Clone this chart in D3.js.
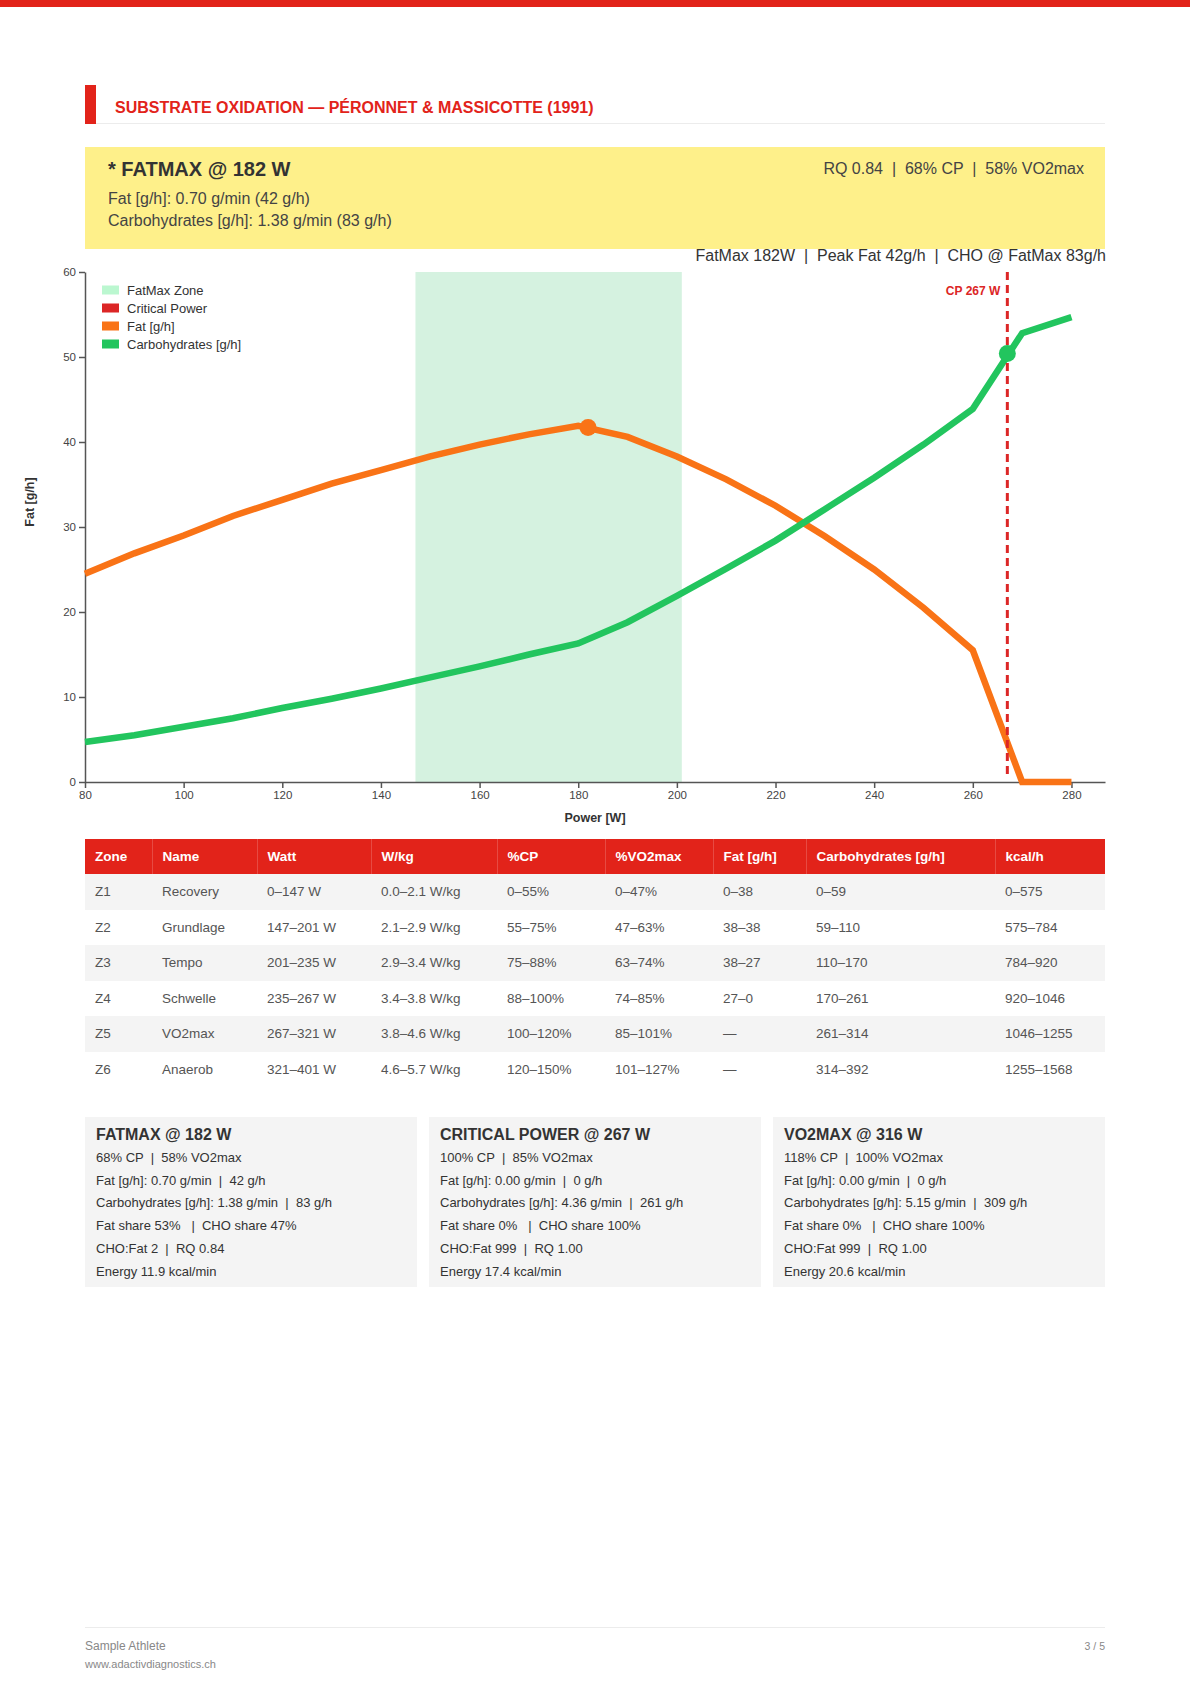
<!DOCTYPE html>
<html>
<head>
<meta charset="utf-8">
<script src="https://cdn.jsdelivr.net/npm/d3@7"></script>
<style>
  html, body { margin: 0; padding: 0; background: #fff; }
  body { width: 1190px; height: 1683px; position: relative; overflow: hidden;
         font-family: "Liberation Sans", Arial, Helvetica, sans-serif; color: #333; }
  .abs { position: absolute; }
  .topbar { left: 0; top: 0; width: 1190px; height: 7px; background: #e2231a; }
  .secbar { left: 85px; top: 85px; width: 11px; height: 39px; background: #e2231a; }
  .secline { left: 96px; top: 123px; width: 1009px; height: 1px; background: #ececec; }
  .sectitle { left: 115px; top: 98px; font-size: 16px; font-weight: bold; color: #e2231a; line-height: 20px; white-space: nowrap; }
  .hl { left: 85px; top: 147px; width: 1020px; height: 102px; background: #fef08a; }
  .hl .t { position: absolute; left: 23px; top: 9.5px; font-size: 20px; font-weight: bold; color: #333; line-height: 24px; white-space: nowrap; }
  .hl .r { position: absolute; right: 21px; top: 11px; font-size: 16px; color: #444; line-height: 22px; white-space: pre; }
  .hl .l { position: absolute; left: 23px; font-size: 16px; color: #444; line-height: 20px; white-space: nowrap; }
  svg.chart { position: absolute; left: 0; top: 0; }
  table.zones { position: absolute; left: 85px; top: 839px; width: 1020px; border-collapse: collapse; table-layout: fixed; }
  table.zones th { background: #e2231a; color: #fff; font-size: 13.5px; font-weight: bold; text-align: left;
                   height: 35px; padding: 0 0 0 10px; box-sizing: border-box; border-right: 1px solid rgba(255,255,255,0.18); white-space: nowrap; }
  table.zones th:last-child { border-right: none; }
  table.zones td { font-size: 13.5px; color: #555; height: 35.5px; padding: 0 0 0 10px; box-sizing: border-box; white-space: nowrap; }
  table.zones tbody tr:nth-child(odd) td { background: #f4f4f4; }
  .card { position: absolute; top: 1117px; width: 332px; height: 170px; background: #f4f4f4; }
  .card .ct { position: absolute; left: 11px; top: 8px; font-size: 16px; font-weight: bold; color: #333; line-height: 20px; white-space: nowrap; }
  .card .cl { position: absolute; left: 11px; font-size: 13px; color: #333; line-height: 16px; white-space: pre; }
  .footline { left: 85px; top: 1627px; width: 1020px; height: 1px; background: #ececec; }
  .f1 { left: 85px; top: 1639px; font-size: 12px; color: #888; line-height: 14px; }
  .f2 { left: 85px; top: 1658px; font-size: 11px; color: #888; line-height: 12px; }
  .f3 { right: 85px; top: 1639px; font-size: 10.5px; color: #888; line-height: 14px; }
</style>
</head>
<body>
<script>
// ---------------- DATA ----------------
const sectionTitle = "SUBSTRATE OXIDATION — PÉRONNET & MASSICOTTE (1991)";
const highlightTitle = "* FATMAX @ 182 W";
const highlightRight = "RQ 0.84  |  68% CP  |  58% VO2max";
const highlightLines = ["Fat [g/h]: 0.70 g/min (42 g/h)", "Carbohydrates [g/h]: 1.38 g/min (83 g/h)"];
const chartTitle = "FatMax 182W  |  Peak Fat 42g/h  |  CHO @ FatMax 83g/h";

const powerW = [80, 90, 100, 110, 120, 130, 140, 150, 160, 170, 180, 190, 200, 210, 220, 230, 240, 250, 260, 270, 280];
const fatGh  = [24.5, 26.9, 29.0, 31.3, 33.2, 35.1, 36.7, 38.3, 39.7, 40.9, 41.9, 40.6, 38.3, 35.6, 32.5, 28.9, 25.0, 20.5, 15.5, 0, 0];
const choGh  = [4.7, 5.5, 6.5, 7.5, 8.7, 9.8, 11.0, 12.3, 13.6, 15.0, 16.3, 18.8, 21.9, 25.1, 28.4, 32.1, 35.8, 39.7, 43.9, 52.8, 54.7];

const fatmaxZone = [147, 201];
const fatmaxPoint = [182, 41.7];
const cpW = 267;
const cpChoPoint = [267, 50.4];
const cpLabel = "CP 267 W";

const xTicks = [80, 100, 120, 140, 160, 180, 200, 220, 240, 260, 280];
const yTicks = [0, 10, 20, 30, 40, 50, 60];
const xDomain = [80, 286.8];
const yDomain = [0, 60];
const xLabel = "Power [W]";
const yLabel = "Fat [g/h]";

const legendLabels = ["FatMax Zone", "Critical Power", "Fat [g/h]", "Carbohydrates [g/h]"];
const legendColors = ["#bbf7d0", "#dc2626", "#f97316", "#22c55e"];

const tableHeaders = ["Zone", "Name", "Watt", "W/kg", "%CP", "%VO2max", "Fat [g/h]", "Carbohydrates [g/h]", "kcal/h"];
const zoneIds   = ["Z1", "Z2", "Z3", "Z4", "Z5", "Z6"];
const zoneNames = ["Recovery", "Grundlage", "Tempo", "Schwelle", "VO2max", "Anaerob"];
const zoneWatt  = ["0–147 W", "147–201 W", "201–235 W", "235–267 W", "267–321 W", "321–401 W"];
const zoneWkg   = ["0.0–2.1 W/kg", "2.1–2.9 W/kg", "2.9–3.4 W/kg", "3.4–3.8 W/kg", "3.8–4.6 W/kg", "4.6–5.7 W/kg"];
const zoneCP    = ["0–55%", "55–75%", "75–88%", "88–100%", "100–120%", "120–150%"];
const zoneVO2   = ["0–47%", "47–63%", "63–74%", "74–85%", "85–101%", "101–127%"];
const zoneFat   = ["0–38", "38–38", "38–27", "27–0", "—", "—"];
const zoneCHO   = ["0–59", "59–110", "110–170", "170–261", "261–314", "314–392"];
const zoneKcal  = ["0–575", "575–784", "784–920", "920–1046", "1046–1255", "1255–1568"];
const colWidths = [67, 105, 114, 126, 108, 108, 93, 189, 110];

const cardTitles = ["FATMAX @ 182 W", "CRITICAL POWER @ 267 W", "VO2MAX @ 316 W"];
const cardLines = [
  ["68% CP  |  58% VO2max", "Fat [g/h]: 0.70 g/min  |  42 g/h", "Carbohydrates [g/h]: 1.38 g/min  |  83 g/h", "Fat share 53%   |  CHO share 47%", "CHO:Fat 2  |  RQ 0.84", "Energy 11.9 kcal/min"],
  ["100% CP  |  85% VO2max", "Fat [g/h]: 0.00 g/min  |  0 g/h", "Carbohydrates [g/h]: 4.36 g/min  |  261 g/h", "Fat share 0%   |  CHO share 100%", "CHO:Fat 999  |  RQ 1.00", "Energy 17.4 kcal/min"],
  ["118% CP  |  100% VO2max", "Fat [g/h]: 0.00 g/min  |  0 g/h", "Carbohydrates [g/h]: 5.15 g/min  |  309 g/h", "Fat share 0%   |  CHO share 100%", "CHO:Fat 999  |  RQ 1.00", "Energy 20.6 kcal/min"]
];
const footerName = "Sample Athlete";
const footerUrl = "www.adactivdiagnostics.ch";
const footerPage = "3 / 5";

// ---------------- PAGE ----------------
const body = d3.select("body");
body.append("div").attr("class", "abs topbar");
body.append("div").attr("class", "abs secbar");
body.append("div").attr("class", "abs secline");
body.append("div").attr("class", "abs sectitle").text(sectionTitle);

const hl = body.append("div").attr("class", "abs hl");
hl.append("div").attr("class", "t").text(highlightTitle);
hl.append("div").attr("class", "r").text(highlightRight);
hl.selectAll("div.l").data(highlightLines).enter().append("div")
  .attr("class", "l").style("top", (d, i) => (41.5 + i * 22) + "px").text(d => d);

// ---------------- CHART ----------------
const FONT = "'Liberation Sans', Arial, Helvetica, sans-serif";
const svg = body.append("svg").attr("class", "chart").attr("width", 1190).attr("height", 835);

const x = d3.scaleLinear().domain(xDomain).range([85, 1105]);
const y = d3.scaleLinear().domain(yDomain).range([782, 272]);

// chart title
svg.append("text").attr("x", 1106).attr("y", 261).attr("text-anchor", "end")
  .attr("font-family", FONT).attr("font-size", 16).attr("fill", "#333")
  .style("white-space", "pre").attr("xml:space", "preserve").text(chartTitle);

// fatmax zone
svg.append("rect")
  .attr("x", x(fatmaxZone[0])).attr("width", x(fatmaxZone[1]) - x(fatmaxZone[0]))
  .attr("y", y(yDomain[1])).attr("height", y(yDomain[0]) - y(yDomain[1]))
  .attr("fill", "#d5f2e0");

// axes
const xAxis = d3.axisBottom(x).tickValues(xTicks).tickSizeOuter(0).tickFormat(d3.format("d"));
const yAxis = d3.axisLeft(y).tickValues(yTicks).tickSizeOuter(0).tickFormat(d3.format("d"));
const gx = svg.append("g").attr("transform", `translate(0,${y(0)})`).call(xAxis);
const gy = svg.append("g").attr("transform", `translate(${x(80)},0)`).call(yAxis);
[gx, gy].forEach(g => {
  g.select(".domain").attr("stroke", "#555").attr("stroke-width", 1.5);
  g.selectAll(".tick line").attr("stroke", "#555").attr("stroke-width", 1.5);
  g.selectAll(".tick text").attr("fill", "#444").attr("font-size", 11.5).attr("font-family", FONT);
});

svg.append("text").attr("x", x(80) + (1105 - x(80)) / 2).attr("y", 822).attr("text-anchor", "middle")
  .attr("font-family", FONT).attr("font-size", 12.5).attr("font-weight", "bold").attr("fill", "#333").text(xLabel);
svg.append("text").attr("transform", `translate(34,${(y(0) + y(60)) / 2 - 25}) rotate(-90)`).attr("text-anchor", "middle")
  .attr("font-family", FONT).attr("font-size", 12.5).attr("font-weight", "bold").attr("fill", "#333").text(yLabel);

// lines
const line = (vals) => d3.line().x((d, i) => x(powerW[i])).y(d => y(d))(vals);
svg.append("path").attr("d", line(fatGh)).attr("fill", "none").attr("stroke", "#f97316").attr("stroke-width", 6.5);
svg.append("path").attr("d", line(choGh)).attr("fill", "none").attr("stroke", "#22c55e").attr("stroke-width", 6.5);

// critical power line
svg.append("line").attr("x1", x(cpW)).attr("x2", x(cpW)).attr("y1", y(60)).attr("y2", y(0) - 6)
  .attr("stroke", "#dc2626").attr("stroke-width", 3).attr("stroke-dasharray", "8,5");
svg.append("text").attr("x", x(cpW) - 7).attr("y", 295).attr("text-anchor", "end")
  .attr("font-family", FONT).attr("font-size", 12).attr("font-weight", "bold").attr("fill", "#dc2626").text(cpLabel);

// markers
svg.append("circle").attr("cx", x(fatmaxPoint[0])).attr("cy", y(fatmaxPoint[1])).attr("r", 8.5).attr("fill", "#f97316");
svg.append("circle").attr("cx", x(cpChoPoint[0])).attr("cy", y(cpChoPoint[1])).attr("r", 8.5).attr("fill", "#22c55e");

// legend
const lg = svg.append("g");
legendLabels.forEach((lab, i) => {
  const cy = 290 + i * 18;
  lg.append("rect").attr("x", 102).attr("y", cy - 4.5).attr("width", 17).attr("height", 9).attr("fill", legendColors[i]);
  lg.append("text").attr("x", 127).attr("y", cy + 4.5).attr("font-family", FONT).attr("font-size", 13).attr("fill", "#333").text(lab);
});

// ---------------- TABLE ----------------
const table = body.append("table").attr("class", "zones");
table.append("colgroup").selectAll("col").data(colWidths).enter().append("col").style("width", d => d + "px");
table.append("thead").append("tr").selectAll("th").data(tableHeaders).enter().append("th").text(d => d);
const rows = zoneIds.map((z, i) => [z, zoneNames[i], zoneWatt[i], zoneWkg[i], zoneCP[i], zoneVO2[i], zoneFat[i], zoneCHO[i], zoneKcal[i]]);
table.append("tbody").selectAll("tr").data(rows).enter().append("tr")
  .selectAll("td").data(d => d).enter().append("td").text(d => d);

// ---------------- CARDS ----------------
const cardLefts = [85, 429, 773];
cardTitles.forEach((t, i) => {
  const c = body.append("div").attr("class", "card").style("left", cardLefts[i] + "px");
  c.append("div").attr("class", "ct").text(t);
  c.selectAll("div.cl").data(cardLines[i]).enter().append("div")
    .attr("class", "cl").style("top", (d, j) => (33 + j * 22.7) + "px").text(d => d);
});

// ---------------- FOOTER ----------------
body.append("div").attr("class", "abs footline");
body.append("div").attr("class", "abs f1").text(footerName);
body.append("div").attr("class", "abs f2").text(footerUrl);
body.append("div").attr("class", "abs f3").text(footerPage);
</script>
</body>
</html>
